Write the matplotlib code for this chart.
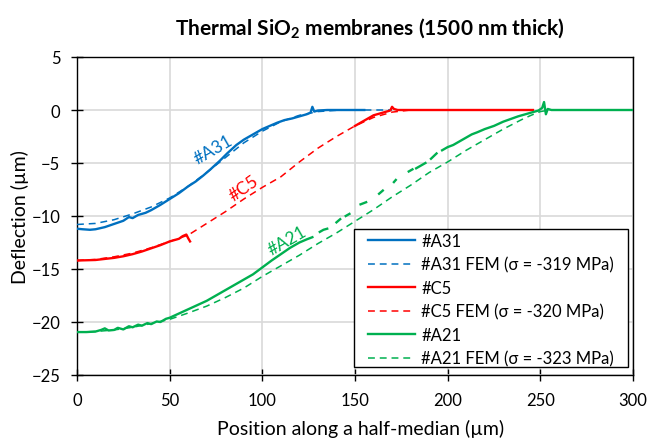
import numpy as np
import matplotlib
matplotlib.use("Agg")
import matplotlib.pyplot as plt
from matplotlib.patches import Rectangle

plt.rcParams['font.family'] = ['Lato', 'DejaVu Sans']
plt.rcParams['mathtext.fontset'] = 'custom'
plt.rcParams['mathtext.rm'] = 'Lato'
plt.rcParams['mathtext.bf'] = 'Lato:bold'

nan = np.nan

# ---- data ----
a31_x = [0, 3, 7, 10, 15, 20, 25, 28, 30, 33, 37, 40, 45, 50, 55, 60, 64, 68, 72, 77,
         81, 86, 90, 95, 100, 104, 108, 112, 116, 120, 124, 126, 127, 128, 130, 135, 145, 155]
a31_y = [-11.2, -11.25, -11.3, -11.25, -11.05, -10.75, -10.45, -10.1, -10.2, -9.9, -9.7, -9.45,
         -8.95, -8.4, -7.85, -7.2, -6.75, -6.2, -5.6, -4.8, -4.1, -3.3, -2.8, -2.3, -1.8, -1.5,
         -1.2, -0.95, -0.8, -0.6, -0.4, -0.25, 0.3, -0.15, -0.05, 0.0, 0.0, 0.0]

a31_fem_x = [0, 10, 20, 30, 40, 50, 60, 70, 80, 90, 100, 110, 120, 130, 140, 150, 170]
a31_fem_y = [-10.8, -10.7, -10.35, -9.8, -9.15, -8.3, -7.2, -5.9, -4.5, -3.1, -2.0, -1.1,
             -0.5, -0.15, -0.03, 0.0, 0.0]

c5_x = [0, 10, 20, 25, 30, 35, 40, 45, 50, 55, 57, 59, 60, 61, nan,
        150, 152, 155, 158, 160, 163, 166, 169, 170, 171, 173, 200, 246]
c5_y = [-14.2, -14.15, -13.95, -13.8, -13.6, -13.35, -13.05, -12.75, -12.4, -12.15, -11.9,
        -11.75, -12.1, -12.4, nan,
        -1.5, -1.3, -1.0, -0.7, -0.5, -0.35, -0.2, -0.05, 0.3, 0.1, 0.0, 0.0, 0.0]

c5_fem_x = [0, 10, 20, 30, 40, 50, 60, 70, 80, 90, 100, 110, 120, 130, 140, 150, 160, 170, 180, 245]
c5_fem_y = [-14.2, -14.1, -13.85, -13.5, -13.0, -12.4, -11.8, -10.7, -9.6, -8.4, -7.3, -6.3,
            -4.9, -3.6, -2.5, -1.5, -0.7, -0.2, 0.0, 0.0]

a21_x = [0, 5, 10, 13, 15, 17, 20, 22, 25, 28, 30, 33, 35, 38, 40, 43, 45, 48, 50, 55, 60,
         65, 70, 75, 80, 85, 90, 95, 100, 105, 110, 115, 120, 124, 127, nan, 131, 133, 135,
         nan, 140, 142, nan, 145, 147, nan, 153, 156, nan, 163, 165, nan, 171, 172, nan,
         179, 181, nan, 183, 186, 188, nan, 191, 194, nan, 197, 200, 203, 207, 210, 213,
         216, 220, 225, 230, 234, 238, 242, 246, 249, 251, 252, 253, 254, 256, 300]
a21_y = [-20.95, -20.95, -20.9, -20.75, -20.6, -20.8, -20.75, -20.55, -20.7, -20.4, -20.5,
         -20.25, -20.35, -20.1, -20.2, -19.95, -20.0, -19.7, -19.6, -19.2, -18.8, -18.4, -18.0,
         -17.5, -17.0, -16.5, -16.0, -15.5, -14.85, -14.2, -13.6, -13.0, -12.5, -12.2, -12.0,
         nan, -11.5, -11.3, -11.2, nan, -10.6, -10.3, nan, -10.0, -9.8, nan, -8.9, -8.7, nan,
         -7.9, -7.6, nan, -6.8, -6.6, nan, -5.8, -5.6, nan, -5.5, -5.2, -5.0, nan, -4.6, -4.1,
         nan, -3.8, -3.5, -3.3, -2.9, -2.6, -2.3, -2.1, -1.8, -1.5, -1.1, -0.85, -0.6, -0.4,
         -0.2, -0.05, 0.2, 0.75, -0.4, 0.1, 0.0, 0.0]

a21_fem_x = [0, 10, 20, 30, 40, 50, 60, 70, 80, 90, 100, 110, 120, 130, 140, 150, 160, 170,
             180, 190, 200, 210, 220, 230, 240, 245, 250, 255]
a21_fem_y = [-20.95, -20.9, -20.75, -20.5, -20.15, -19.75, -19.15, -18.5, -17.7, -16.8, -15.7,
             -14.7, -13.7, -12.6, -11.6, -10.5, -9.4, -8.2, -7.1, -5.9, -4.9, -3.8, -2.8,
             -1.8, -0.9, -0.5, -0.15, 0.0]

legend_labels = ["#A31", "#A31 FEM (σ = -319 MPa)", "#C5", "#C5 FEM (σ = -320 MPa)",
                 "#A21", "#A21 FEM (σ = -323 MPa)"]
x_ticks = [0, 50, 100, 150, 200, 250, 300]
y_ticks = [5, 0, -5, -10, -15, -20, -25]

BLUE = '#0070C0'
RED = '#FF0000'
GREEN = '#00B050'

fig = plt.figure(figsize=(6.48, 4.39), dpi=100)
ax = fig.add_axes([77/648, 63/439, 556/648, 318/439])

lw_m = 1.7
lw_f = 1.1
dash = (4.5, 3.2)
h1, = ax.plot(a31_x, a31_y, color=BLUE, lw=lw_m, zorder=3)
h2, = ax.plot(a31_fem_x, a31_fem_y, color=BLUE, lw=lw_f, dashes=dash, zorder=3)
h3, = ax.plot(c5_x, c5_y, color=RED, lw=lw_m, zorder=3)
h4, = ax.plot(c5_fem_x, c5_fem_y, color=RED, lw=lw_f, dashes=dash, zorder=3)
h5, = ax.plot(a21_x, a21_y, color=GREEN, lw=lw_m, zorder=3)
h6, = ax.plot(a21_fem_x, a21_fem_y, color=GREEN, lw=lw_f, dashes=dash, zorder=3)

ax.set_xlim(0, 300)
ax.set_ylim(-25, 5)
ax.set_xticks(x_ticks)
ax.set_yticks(y_ticks)
ax.grid(True, color='#d9d9d9', lw=1.2, zorder=0)
ax.set_axisbelow(True)
for s in ax.spines.values():
    s.set_color('black')
    s.set_linewidth(1.0)
ax.tick_params(axis='both', direction='inout', length=8, width=1.0, labelsize=12,
               colors='black')
ax.tick_params(axis='x', pad=8)
ax.tick_params(axis='y', pad=8)

ax.set_xlabel("Position along a half-median (µm)", fontsize=14)
ax.set_ylabel("Deflection (µm)", fontsize=14)
ax.xaxis.set_label_coords(0.5 + 6/556, -(420 - 376)/318)
ax.yaxis.set_label_coords(-(77 - 29)/556, 0.5)

fig.text(370/648, 1 - 29/439, r"Thermal SiO$_\mathbf{2}$ membranes (1500 nm thick)",
         ha='center', va='center', fontsize=15, fontweight='bold')

ax.text(73.4, -3.7, "#A31", color=BLUE, rotation=30, fontsize=12.5, ha='center', va='center',
        rotation_mode='anchor')
ax.text(89.8, -7.3, "#C5", color=RED, rotation=35, fontsize=12.5, ha='center', va='center',
        rotation_mode='anchor')
ax.text(113.2, -12.3, "#A21", color=GREEN, rotation=30, fontsize=12.5, ha='center', va='center',
        rotation_mode='anchor')

# legend frame
rect = Rectangle((277/556, 8/318), 274/556, 138/318, transform=ax.transAxes,
                 facecolor='white', edgecolor='black', lw=1.0, zorder=4)
ax.add_patch(rect)
leg = ax.legend([h1, h2, h3, h4, h5, h6], legend_labels, loc='upper left',
                bbox_to_anchor=(291/556, 142/318), frameon=False, fontsize=12,
                handlelength=2.8, handletextpad=0.4, labelspacing=0.45, borderpad=0,
                borderaxespad=0)
leg.set_zorder(5)

fig.savefig("out.png", dpi=100)
